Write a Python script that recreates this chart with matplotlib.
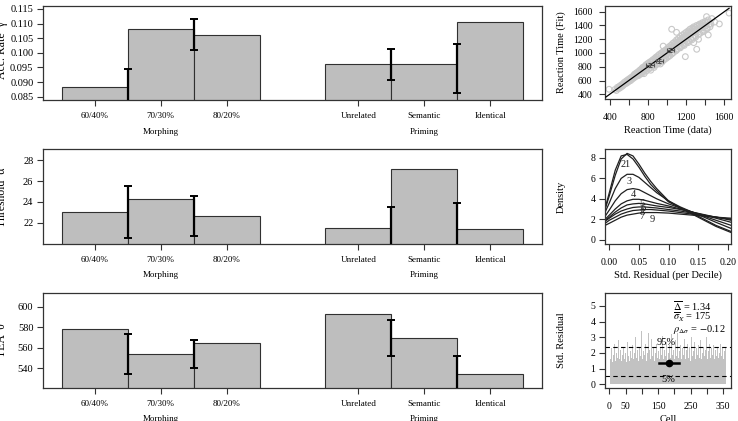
import matplotlib
matplotlib.use('Agg')
import matplotlib.pyplot as plt
import numpy as np
from matplotlib.transforms import blended_transform_factory

plt.rcParams['font.family'] = ['Liberation Serif', 'DejaVu Serif']
plt.rcParams['mathtext.fontset'] = 'stix'

# ---------------- data ----------------
morph_labels = ['60/40%', '70/30%', '80/20%']
prim_labels = ['Unrelated', 'Semantic', 'Identical']
group_labels = ['Morphing', 'Priming']

acc_morph = [0.0882, 0.1082, 0.1062]
acc_morph_lo = [0.0800, 0.1009]
acc_morph_hi = [0.0945, 0.1115]
acc_prim = [0.0961, 0.0962, 0.1105]
acc_prim_lo = [0.0908, 0.0864]
acc_prim_hi = [0.1014, 0.1029]

thr_morph = [23.05, 24.33, 22.70]
thr_morph_lo = [20.50, 20.78]
thr_morph_hi = [25.57, 24.60]
thr_prim = [21.52, 27.20, 21.40]
thr_prim_lo = [18.0, 18.0]
thr_prim_hi = [23.53, 23.88]

tea_morph = [578.2, 554.0, 564.5]
tea_morph_lo = [534.1, 540.0]
tea_morph_hi = [573.9, 567.7]
tea_prim = [592.8, 569.4, 534.1]
tea_prim_lo = [552.0, 500.0]
tea_prim_hi = [587.3, 552.0]

# scatter: reaction time data vs fit
rt_data = [455, 470, 480, 490, 500, 505, 515, 520, 530, 535, 545, 550, 560, 565, 575, 580, 590, 595, 605, 610,
           620, 625, 635, 640, 650, 655, 665, 670, 680, 685, 695, 700,
           710, 715, 720, 730, 735, 745, 750, 760, 765, 770, 780, 785, 790, 800, 805, 810, 820, 825, 830, 840,
           845, 850, 860, 865, 870, 880, 885, 890, 900, 905, 910, 920, 925, 930, 940, 945, 950, 960, 965, 970,
           980, 985, 990, 1000,
           1005, 1010, 1020, 1025, 1030, 1040, 1045, 1050, 1060, 1065, 1070, 1080, 1085, 1090, 1100, 1105, 1110,
           1120, 1125, 1130, 1140, 1145, 1150, 1160, 1165, 1170, 1180, 1185, 1190, 1200, 1205, 1210, 1220, 1225,
           1230, 1240, 1245, 1250, 1260, 1265, 1270, 1280, 1290, 1300, 1310, 1320, 1330, 1340, 1350, 1360, 1370,
           1380, 1390, 1400, 1410, 1420, 1430, 1440, 1450,
           600, 640, 660, 690, 720, 740, 760, 780, 800, 820, 840, 860, 880, 900, 920, 940, 960, 980, 1000, 1020,
           1040, 1060, 1080, 1100, 1120, 1140, 1160, 1180, 1200, 1220, 1240, 1260, 1280, 1300, 1320, 1340, 1360,
           1380, 1400, 1420,
           700, 740, 780, 820, 860, 900, 940, 980, 1020, 1060, 1100, 1140, 1180, 1220, 1260, 1300, 1340, 1380,
           1420, 1460,
           393, 1414, 1548, 1049, 1311, 1192, 1432, 1650, 1470, 1500, 1330, 1280, 960, 1100]
rt_fit = [470, 455, 500, 480, 515, 490, 530, 505, 545, 520, 535, 570, 550, 585, 560, 600, 575, 615, 590, 630,
          600, 645, 620, 660, 635, 680, 650, 700, 665, 715, 680, 730,
          700, 750, 690, 765, 720, 790, 735, 700, 805, 760, 830, 745, 795, 850, 770, 820, 870, 790, 750, 880,
          815, 900, 840, 790, 920, 860, 940, 830, 890, 960, 850, 980, 900, 840, 1000, 920, 870, 1020, 950, 900,
          1040, 970, 920, 1060,
          990, 940, 1090, 1020, 960, 1110, 1050, 985, 1140, 1070, 1010, 1160, 1100, 1030, 1190, 1120, 1060,
          1210, 1150, 1080, 1240, 1170, 1100, 1260, 1190, 1120, 1280, 1215, 1140, 1300, 1240, 1160, 1320, 1260,
          1180, 1345, 1280, 1200, 1360, 1300, 1225, 1380, 1320, 1250, 1400, 1340, 1270, 1420, 1360, 1300, 1440,
          1390, 1330, 1460, 1400, 1350, 1480, 1420, 1380,
          610, 650, 690, 700, 740, 770, 780, 810, 830, 840, 870, 880, 910, 930, 950, 970, 990, 1010, 1030, 1060,
          1080, 1100, 1130, 1150, 1170, 1190, 1220, 1240, 1260, 1290, 1300, 1330, 1350, 1370, 1390, 1400, 1420,
          1430, 1440, 1450,
          670, 705, 735, 775, 810, 850, 890, 925, 965, 1000, 1040, 1075, 1110, 1150, 1190, 1230, 1280, 1310,
          1360, 1420,
          473, 1528, 1422, 1345, 1054, 947, 1262, 1580, 1500, 1450, 1200, 1150, 1100, 1300]
diag_range = [360, 1650]
rt_err_x = [820, 920, 1035]
rt_err_y = [822, 888, 1042]
rt_err_xe = [40, 40, 40]
rt_err_ye = [30, 30, 30]

# density of std residual per decile
dens_x = [-0.007, 0.0, 0.01, 0.02, 0.03, 0.04, 0.05, 0.06, 0.07, 0.08, 0.10, 0.12, 0.14, 0.16, 0.18, 0.2056]
dens_1 = [3.0, 4.3, 6.3, 7.9, 8.45, 8.2, 7.4, 6.5, 5.7, 5.0, 3.8, 3.1, 2.6, 2.0, 1.4, 0.8]
dens_2 = [3.1, 4.6, 6.8, 8.2, 8.35, 7.9, 7.1, 6.2, 5.4, 4.8, 3.7, 3.1, 2.5, 1.9, 1.3, 0.7]
dens_3 = [2.7, 3.6, 5.0, 6.0, 6.4, 6.4, 6.1, 5.6, 5.1, 4.6, 3.8, 3.2, 2.7, 2.2, 1.7, 1.1]
dens_4 = [2.3, 2.9, 3.8, 4.5, 4.9, 5.0, 4.9, 4.6, 4.3, 4.0, 3.5, 3.1, 2.7, 2.3, 1.9, 1.4]
dens_5 = [2.0, 2.4, 3.0, 3.5, 3.8, 3.95, 3.95, 3.85, 3.7, 3.55, 3.3, 3.0, 2.7, 2.4, 2.1, 1.7]
dens_6 = [1.9, 2.2, 2.7, 3.1, 3.4, 3.5, 3.55, 3.5, 3.4, 3.3, 3.15, 2.95, 2.7, 2.45, 2.2, 1.9]
dens_7 = [1.6, 1.9, 2.2, 2.5, 2.7, 2.85, 2.9, 2.95, 2.95, 2.9, 2.8, 2.65, 2.5, 2.35, 2.2, 2.0]
dens_8 = [1.8, 2.1, 2.5, 2.8, 3.0, 3.15, 3.2, 3.2, 3.15, 3.1, 2.95, 2.8, 2.6, 2.4, 2.2, 2.0]
dens_9 = [1.4, 1.6, 1.9, 2.2, 2.4, 2.5, 2.6, 2.65, 2.65, 2.65, 2.6, 2.5, 2.4, 2.3, 2.2, 2.1]
dens_labels = ['1', '2', '3', '4', '5', '6', '7', '8', '9']
dens_label_x = [0.029, 0.0237, 0.034, 0.040, 0.0545, 0.057, 0.0545, 0.056, 0.072]
dens_label_y = [7.4, 7.4, 5.7, 4.45, 3.55, 3.05, 2.3, 2.65, 2.0]

# std residual per cell (every third cell)
resid_vals = [2.1, 1.6, 2.3, 1.4, 1.9, 2.6, 1.5, 2.0, 1.7, 2.8, 1.6, 2.2, 1.5, 1.9, 2.4, 1.6, 2.0, 1.4, 2.7, 1.8,
              1.5, 2.1, 1.7, 2.5, 1.6, 2.0, 3.0, 1.7, 2.2, 1.5, 2.4, 1.8, 3.4, 1.6, 2.1, 1.9, 2.6, 1.5, 2.0, 3.3,
              1.7, 2.2, 1.6, 2.9, 1.8, 2.3, 1.5, 2.0, 2.6, 1.7, 2.1, 1.6, 2.4, 1.9, 3.1, 1.6, 2.2, 1.8, 2.7, 1.5,
              2.0, 2.5, 1.7, 3.2, 1.9, 2.2, 1.6, 2.8, 1.8, 3.3, 1.7, 2.1, 2.5, 1.6, 2.3, 1.9, 2.9, 1.6, 2.2, 1.8,
              2.6, 1.7, 2.4, 1.5, 3.0, 1.8, 2.1, 2.7, 1.6, 2.3, 1.9, 2.5, 1.7, 2.8, 1.6, 2.0, 2.4, 1.8, 2.2, 3.0,
              1.6, 2.1, 2.6, 1.7, 2.3, 1.9, 2.5, 1.6, 2.2, 1.8, 2.4, 1.7, 2.0, 2.6, 1.8, 2.3, 1.6, 2.1, 2.4, 2.2]
resid_q95 = 2.38
resid_q05 = 0.51
resid_mean = 1.34
resid_mean_cell = 183
resid_cell_lo = 152
resid_cell_hi = 214
stat_lines = [r'$\overline{\Delta}$ = 1.34', r'$\overline{\sigma}_{X}$ = 175', r'$\rho_{\Delta\sigma}$ = $-$0.12']
stat_y = [4.96, 4.28, 3.51]

# ---------------- styling ----------------
W, H = 738, 421
BAR = '#bebebe'
EDGE = '#303030'
FRAME = '#333333'

fig = plt.figure(figsize=(W / 100, H / 100), dpi=100)


def px(l, t, r, b):
    return [l / W, 1 - b / H, (r - l) / W, (b - t) / H]


def style_frame(ax):
    for s in ax.spines.values():
        s.set_color(FRAME)
        s.set_linewidth(0.9)


def bar_panel(rect, mv, mlo, mhi, pv, plo, phi, ylim, yticks, fmt, ylabel, ylab_y):
    ax = fig.add_axes(rect)
    style_frame(ax)
    pos_m = np.arange(len(mv))
    pos_p = pos_m + len(mv) + 1
    ax.bar(pos_m, mv, width=1, color=BAR, edgecolor=EDGE, linewidth=0.8, zorder=2)
    ax.bar(pos_p, pv, width=1, color=BAR, edgecolor=EDGE, linewidth=0.8, zorder=2)
    for pos, lo, hi in ((pos_m, mlo, mhi), (pos_p, plo, phi)):
        lo = np.array(lo); hi = np.array(hi)
        ex = pos[:-1] + 0.5
        ax.errorbar(ex, (lo + hi) / 2, yerr=(hi - lo) / 2, fmt='none', ecolor='black',
                    elinewidth=1.6, capsize=2.6, capthick=1.4, zorder=3)
    ax.set_xlim(-0.79, 6.79)
    ax.set_ylim(*ylim)
    ax.set_yticks(yticks)
    ax.set_yticklabels([fmt % v for v in yticks])
    ax.set_xticks(list(pos_m) + list(pos_p))
    ax.set_xticklabels(morph_labels + prim_labels)
    ax.tick_params(axis='y', direction='out', length=4.2, width=0.8, labelsize=7.5, pad=2.5, color=FRAME)
    ax.tick_params(axis='x', direction='out', length=4.5, width=0.8, labelsize=6.5, pad=4, color=FRAME)
    tr = blended_transform_factory(ax.transData, ax.transAxes)
    hpx = rect[3] * H
    ax.text(pos_m[1], -31.7 / hpx, group_labels[0], transform=tr, ha='center', va='center', fontsize=6.5)
    ax.text(pos_p[1], -31.7 / hpx, group_labels[1], transform=tr, ha='center', va='center', fontsize=6.5)
    fig.text(2 / W, 1 - ylab_y / H, ylabel, rotation=90, ha='center', va='center', fontsize=8.5)
    return ax


bar_panel(px(42.7, 5.7, 542.3, 100), acc_morph, acc_morph_lo, acc_morph_hi,
          acc_prim, acc_prim_lo, acc_prim_hi, (0.0839, 0.1161),
          [0.085, 0.090, 0.095, 0.100, 0.105, 0.110, 0.115], '%.3f', 'Acc. Rate  \u03b3', 50)
bar_panel(px(42.7, 149.3, 542.3, 243.7), thr_morph, thr_morph_lo, thr_morph_hi,
          thr_prim, thr_prim_lo, thr_prim_hi, (20.0, 29.05), [22, 24, 26, 28], '%d', 'Threshold  \u03b1', 197)
bar_panel(px(42.7, 293.3, 542.3, 387.7), tea_morph, tea_morph_lo, tea_morph_hi,
          tea_prim, tea_prim_lo, tea_prim_hi, (521, 613.4), [540, 560, 580, 600], '%d', 'TEA  \u03b8', 340)

# ---------------- scatter ----------------
ax = fig.add_axes(px(605, 5.7, 731, 98.7))
style_frame(ax)
ax.scatter(rt_data, rt_fit, s=17, facecolors='none', edgecolors='#c8c8c8', linewidths=0.8, zorder=1)
ax.plot(diag_range, diag_range, color='black', lw=0.9, zorder=3)
ax.errorbar(rt_err_x, rt_err_y, xerr=rt_err_xe, yerr=rt_err_ye, fmt='none', ecolor='#555555',
            elinewidth=0.8, capsize=1.5, capthick=0.8, zorder=4)
ax.set_xlim(351, 1670)
ax.set_ylim(336, 1687)
ax.set_xticks([400, 600, 800, 1000, 1200, 1400, 1600])
ax.set_xticklabels(['400', '', '800', '', '1200', '', '1600'])
ax.set_yticks([400, 600, 800, 1000, 1200, 1400, 1600])
ax.tick_params(direction='out', length=4, width=0.8, labelsize=7, color=FRAME)
ax.tick_params(axis='x', pad=6)
ax.tick_params(axis='y', pad=5)
ax.set_xlabel('Reaction Time (data)', fontsize=7.5)
ax.set_ylabel('Reaction Time (Fit)', fontsize=7.5)
ax.xaxis.set_label_coords(0.5, -27 / 93)
ax.yaxis.set_label_coords(-39 / 126, 0.5)

# ---------------- density ----------------
ax = fig.add_axes(px(605, 149.3, 731, 243.7))
style_frame(ax)
for d in (dens_1, dens_2, dens_3, dens_4, dens_5, dens_6, dens_7, dens_8, dens_9):
    ax.plot(dens_x, d, color='#202020', lw=0.9)
for lab, lx, ly in zip(dens_labels, dens_label_x, dens_label_y):
    ax.text(lx, ly, lab, ha='center', va='center', fontsize=7.5, color='#202020')
ax.set_xlim(-0.0073, 0.2056)
ax.set_ylim(-0.4, 8.85)
ax.set_xticks([0.0, 0.05, 0.10, 0.15, 0.20])
ax.set_xticklabels(['0.00', '0.05', '0.10', '0.15', '0.20'])
ax.set_yticks([0, 2, 4, 6, 8])
ax.tick_params(direction='out', length=4, width=0.8, labelsize=7, color=FRAME)
ax.tick_params(axis='x', pad=6)
ax.tick_params(axis='y', pad=3)
ax.set_xlabel('Std. Residual (per Decile)', fontsize=7.5)
ax.set_ylabel('Density', fontsize=7.5)
ax.xaxis.set_label_coords(0.5, -27 / 94.4)
ax.yaxis.set_label_coords(-39 / 126, 0.5)

# ---------------- residual per cell ----------------
ax = fig.add_axes(px(605, 293.3, 731, 387.7))
style_frame(ax)
cells = np.arange(len(resid_vals)) * 3 + 2
ax.bar(cells, resid_vals, width=3, color='#c2c2c2', linewidth=0, zorder=1)
ax.axhline(resid_q95, color='black', lw=0.8, ls=(0, (4, 3)), zorder=2)
ax.axhline(resid_q05, color='black', lw=0.8, ls=(0, (4, 3)), zorder=2)
ax.text(175, resid_q95 + 0.28, '95%', ha='center', va='center', fontsize=7.5)
ax.text(180, resid_q05 - 0.2, '5%', ha='center', va='center', fontsize=7.5)
ax.plot([resid_cell_lo, resid_cell_hi], [resid_mean, resid_mean], color='black', lw=1.8, zorder=3)
ax.plot([resid_mean_cell], [resid_mean], 'o', color='black', ms=4.5, zorder=4)
for s, sy in zip(stat_lines, stat_y):
    ax.text(196, sy, s, ha='left', va='center', fontsize=7.5)
ax.set_xlim(-13.4, 374.4)
ax.set_ylim(-0.22, 5.81)
ax.set_xticks([0, 50, 100, 150, 200, 250, 300, 350])
ax.set_xticklabels(['0', '50', '', '150', '', '250', '', '350'])
ax.set_yticks([0, 1, 2, 3, 4, 5])
ax.tick_params(direction='out', length=4, width=0.8, labelsize=7, color=FRAME)
ax.tick_params(axis='x', pad=6)
ax.tick_params(axis='y', pad=3)
ax.set_xlabel('Cell', fontsize=7.5)
ax.set_ylabel('Std. Residual', fontsize=7.5)
ax.xaxis.set_label_coords(0.5, -27 / 94.4)
ax.yaxis.set_label_coords(-39 / 126, 0.5)

fig.savefig('out.png', dpi=100)
